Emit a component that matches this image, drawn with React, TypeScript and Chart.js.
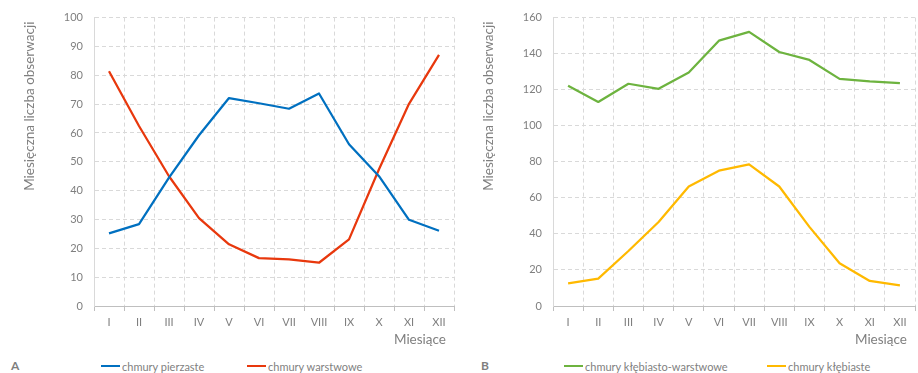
import { useEffect, useRef } from 'react';
import { Chart, registerables } from 'chart.js';

Chart.register(...registerables);

// Roman-numeral month labels shared by both panels
const months = ['I', 'II', 'III', 'IV', 'V', 'VI', 'VII', 'VIII', 'IX', 'X', 'XI', 'XII'];

// Panel A: monthly mean number of observations
const cirrus = [25.2, 28.4, 44.5, 59.2, 72.1, 70.3, 68.4, 73.7, 56.1, 45.0, 29.9, 26.1];
const stratus = [81.4, 62.4, 45.0, 30.5, 21.4, 16.6, 16.2, 15.0, 23.1, 47.4, 70.1, 87.1];

// Panel B
const stratocumulus = [122.2, 113.2, 123.3, 120.5, 129.5, 147.2, 152.1, 140.9, 136.5, 126.0, 124.6, 123.6];
const cumulus = [12.5, 15.2, 30.5, 46.6, 66.3, 75.1, 78.6, 66.3, 43.9, 23.7, 13.9, 11.4];

const seriesNamesA = ['chmury pierzaste', 'chmury warstwowe'];
const seriesNamesB = ['chmury kłębiasto-warstwowe', 'chmury kłębiaste'];

const yTitle = 'Miesięczna liczba obserwacji';
const xTitle = 'Miesiące';

const FONT = 'Lato, "Open Sans", sans-serif';
const TEXT = '#7f7f7f';
const GRID = '#d9d9d9';
const AXIS = '#bfbfbf';

const CANVAS_H = 350;

// Draws the rotated y title (anchored at the top) and the right-aligned x title
const axisTitles = {
  id: 'axisTitles',
  afterDraw(chart: any, _args: any, opts: any) {
    const { ctx, chartArea } = chart;
    ctx.save();
    ctx.fillStyle = TEXT;
    ctx.font = `13.5px ${FONT}`;
    ctx.textBaseline = 'middle';

    ctx.save();
    ctx.translate(opts.yTitleX, chartArea.top + 4);
    ctx.rotate(-Math.PI / 2);
    ctx.textAlign = 'right';
    ctx.fillText(yTitle, 0, 0);
    ctx.restore();

    ctx.textAlign = 'right';
    ctx.fillText(xTitle, chartArea.right - opts.xTitleInset, opts.xTitleY);
    ctx.restore();
  },
};

type Series = { label: string; data: number[]; color: string };

type PanelProps = {
  left: number;
  width: number;
  plotLeft: number;
  padRight: number;
  yMax: number;
  yStep: number;
  series: Series[];
  letter: string;
  legendX: number[];
};

function Panel({ left, width, plotLeft, padRight, yMax, yStep, series, letter, legendX }: PanelProps) {
  const ref = useRef<HTMLCanvasElement | null>(null);

  useEffect(() => {
    if (!ref.current) return;
    const chart = new Chart(ref.current, {
      type: 'line',
      data: {
        labels: months,
        datasets: series.map((s) => ({
          label: s.label,
          data: s.data,
          borderColor: s.color,
          backgroundColor: s.color,
          borderWidth: 2.25,
          pointRadius: 0,
          tension: 0,
          borderJoinStyle: 'round' as const,
          fill: false,
        })),
      },
      options: {
        responsive: false,
        animation: false,
        events: [],
        layout: { padding: { top: 16, right: padRight, left: 0, bottom: 0 } },
        plugins: {
          legend: { display: false },
          tooltip: { enabled: false },
          axisTitles: { yTitleX: plotLeft - 64, xTitleY: 340, xTitleInset: 8 },
        } as any,
        scales: {
          x: {
            offset: true,
            grid: {
              offset: true,
              color: GRID,
              lineWidth: 1,
              drawTicks: true,
              tickLength: 5,
              tickColor: AXIS,
              tickBorderDash: [],
            },
            border: { display: true, color: AXIS, width: 1, dash: [4, 3] },
            ticks: {
              color: TEXT,
              font: { family: FONT, size: 11 },
              padding: 5,
              maxRotation: 0,
              autoSkip: false,
            },
            afterFit: (scale: any) => {
              scale.height = 44;
            },
          },
          y: {
            min: 0,
            max: yMax,
            grid: { color: GRID, lineWidth: 1, drawTicks: false },
            border: { display: true, color: GRID, width: 1, dash: [4, 3] },
            ticks: {
              stepSize: yStep,
              color: TEXT,
              font: { family: FONT, size: 11 },
              padding: 11,
            },
            afterFit: (scale: any) => {
              scale.width = plotLeft;
            },
          },
        },
      },
      plugins: [axisTitles],
    });
    return () => chart.destroy();
  }, []);

  return (
    <div style={{ position: 'absolute', left, top: 0, width, height: 373 }}>
      <canvas ref={ref} width={width} height={CANVAS_H} style={{ display: 'block' }} />
      <div
        style={{
          position: 'absolute',
          left: left === 0 ? 11 : 21,
          top: 358,
          font: `bold 12px ${FONT}`,
          color: TEXT,
          lineHeight: '16px',
        }}
      >
        {letter}
      </div>
      {series.map((s, i) => (
        <div
          key={s.label}
          style={{
            position: 'absolute',
            left: legendX[i],
            top: 358,
            height: 16,
            display: 'flex',
            alignItems: 'center',
            font: `11px ${FONT}`,
            color: TEXT,
            whiteSpace: 'nowrap',
          }}
        >
          <span style={{ display: 'inline-block', width: 19, height: 2.5, background: s.color, marginRight: 2 }} />
          {s.label}
        </div>
      ))}
    </div>
  );
}

export default function App() {
  return (
    <div style={{ position: 'fixed', left: 0, top: 0, width: 918, height: 373, background: '#fff', overflow: 'hidden' }}>
      <Panel
        left={0}
        width={460}
        plotLeft={94}
        padRight={6}
        yMax={100}
        yStep={10}
        letter="A"
        legendX={[101, 247]}
        series={[
          { label: seriesNamesA[0], data: cirrus, color: '#0070c0' },
          { label: seriesNamesA[1], data: stratus, color: '#e8380d' },
        ]}
      />
      <Panel
        left={460}
        width={458}
        plotLeft={93}
        padRight={3}
        yMax={160}
        yStep={20}
        letter="B"
        legendX={[104, 307]}
        series={[
          { label: seriesNamesB[0], data: stratocumulus, color: '#6db33f' },
          { label: seriesNamesB[1], data: cumulus, color: '#ffb900' },
        ]}
      />
    </div>
  );
}
